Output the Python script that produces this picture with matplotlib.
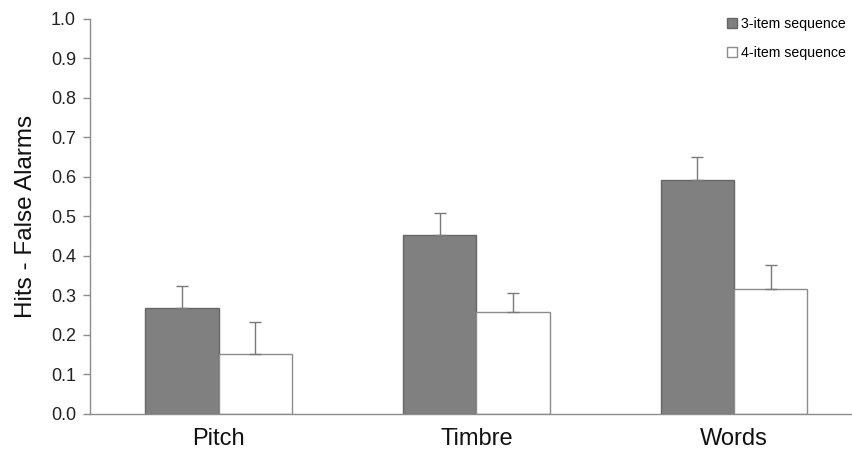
import numpy as np
import matplotlib.pyplot as plt
from matplotlib.patches import Patch

plt.rcParams['font.family'] = ['Liberation Sans', 'DejaVu Sans']

# --- data ---
categories = ['Pitch', 'Timbre', 'Words']
series_names = ['3-item sequence', '4-item sequence']
three_item = [0.268, 0.453, 0.592]
three_item_err = [0.057, 0.055, 0.059]
four_item = [0.152, 0.258, 0.316]
four_item_err = [0.080, 0.049, 0.062]
y_ticks = [0.0, 0.1, 0.2, 0.3, 0.4, 0.5, 0.6, 0.7, 0.8, 0.9, 1.0]

fig = plt.figure(figsize=(8.53, 4.5), dpi=100)
ax = fig.add_axes([0.1055, 0.08, 0.8945, 0.878])

x = np.arange(len(categories))
w = 0.285
err_style = dict(ecolor='#7a7a7a', elinewidth=1.0, capsize=4, capthick=1.0)

ax.bar(x - w / 2, three_item, w, color='#808080', edgecolor='#666666', linewidth=1.0,
       yerr=[np.zeros(3), three_item_err], error_kw=err_style, zorder=2)
ax.bar(x + w / 2, four_item, w, color='white', edgecolor='#8c8c8c', linewidth=1.0,
       yerr=[np.zeros(3), four_item_err], error_kw=err_style, zorder=2)

ax.set_xlim(-0.5, 2.462)
ax.set_ylim(0, 1.0)
ax.set_yticks(y_ticks)
ax.set_yticklabels([f'{t:.1f}' for t in y_ticks], fontsize=13, color='#222222')
ax.set_xticks(x)
ax.set_xticklabels(categories, fontsize=17, color='#111111')
ax.tick_params(axis='x', length=0, pad=10)
ax.tick_params(axis='y', length=5, width=1, color='#8c8c8c', direction='out', pad=5)
ax.set_ylabel('Hits - False Alarms', fontsize=17.5, color='#111111', labelpad=10)

for side in ['top', 'right']:
    ax.spines[side].set_visible(False)
for side in ['left', 'bottom']:
    ax.spines[side].set_color('#8c8c8c')
    ax.spines[side].set_linewidth(1.0)

handles = [Patch(facecolor='#808080', edgecolor='#666666'),
           Patch(facecolor='white', edgecolor='#8c8c8c')]
ax.legend(handles, series_names, loc='upper right', bbox_to_anchor=(0.998, 1.02),
          frameon=False, fontsize=10.2, handlelength=0.7, handleheight=0.7,
          handletextpad=0.25, labelspacing=1.05, borderaxespad=0)

fig.savefig('out.png', dpi=100)
